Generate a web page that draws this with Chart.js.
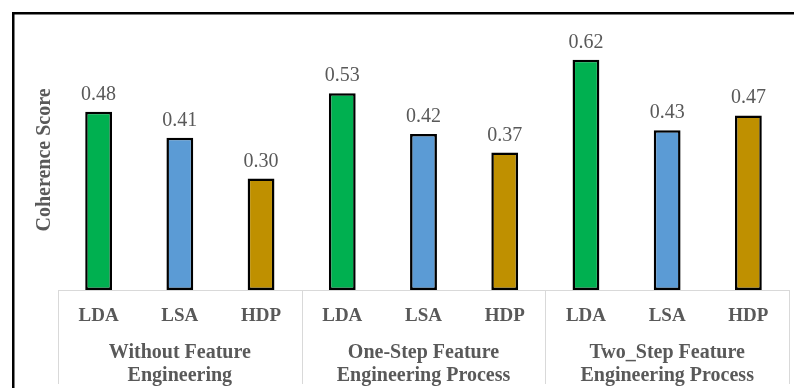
<!DOCTYPE html>
<html>
<head>
<meta charset="utf-8">
<script src="https://cdn.jsdelivr.net/npm/chart.js@4/dist/chart.umd.min.js"></script>
<style>
  html, body { margin: 0; padding: 0; background: #ffffff; }
  #wrap { width: 794px; height: 388px; }
</style>
</head>
<body>
<div id="wrap"><canvas id="chart" width="794" height="388"></canvas></div>
<script>
// Topic models compared in each setting
const methods = ['LDA', 'LSA', 'HDP'];
// Feature engineering settings (two-line labels)
const groups = [
  ['Without Feature', 'Engineering'],
  ['One-Step Feature', 'Engineering Process'],
  ['Two_Step Feature', 'Engineering Process']
];
// Coherence scores per setting, in method order
const withoutFE = [0.48, 0.41, 0.30];
const oneStepFE = [0.53, 0.42, 0.37];
const twoStepFE = [0.62, 0.43, 0.47];

const methodColors = ['#00B050', '#5B9BD5', '#BF9000'];
const textGray = '#595959';
const lineGray = '#d9d9d9';
const serif = '"Liberation Serif", "Times New Roman", serif';

const labels = groups.flatMap(() => methods);
const scores = [...withoutFE, ...oneStepFE, ...twoStepFE];
const barColors = groups.flatMap(() => methodColors);

// White background and the dark frame along the top and left
const framePlugin = {
  id: 'frame',
  beforeDraw(chart) {
    const ctx = chart.ctx;
    ctx.save();
    ctx.fillStyle = '#ffffff';
    ctx.fillRect(0, 0, chart.width, chart.height);
    ctx.fillStyle = '#000000';
    ctx.fillRect(12, 12, chart.width - 12, 2.5);
    ctx.fillRect(12, 12, 2.5, chart.height - 12);
    ctx.restore();
  }
};

// Vertical dividers between the setting groups below the axis
const dividerPlugin = {
  id: 'dividers',
  afterDraw(chart) {
    const x = chart.scales.x;
    const ctx = chart.ctx;
    ctx.save();
    ctx.strokeStyle = lineGray;
    ctx.lineWidth = 1;
    for (let i = 0; i <= groups.length; i++) {
      const px = Math.round(x.getPixelForValue(i * methods.length - 0.5)) + 0.5;
      ctx.beginPath();
      ctx.moveTo(px, x.top);
      ctx.lineTo(px, 384);
      ctx.stroke();
    }
    ctx.restore();
  }
};

// Value labels above each bar
const valueLabelPlugin = {
  id: 'valueLabels',
  afterDatasetsDraw(chart) {
    const ctx = chart.ctx;
    const meta = chart.getDatasetMeta(0);
    const values = chart.data.datasets[0].data;
    ctx.save();
    ctx.font = '20px ' + serif;
    ctx.fillStyle = textGray;
    ctx.textAlign = 'center';
    ctx.textBaseline = 'alphabetic';
    meta.data.forEach((bar, i) => {
      ctx.fillText(values[i].toFixed(2), bar.x, bar.y - 12);
    });
    ctx.restore();
  }
};

new Chart(document.getElementById('chart'), {
  type: 'bar',
  data: {
    labels: labels,
    datasets: [{
      data: scores,
      backgroundColor: barColors,
      borderColor: '#000000',
      borderWidth: 2.5,
      borderSkipped: false,
      categoryPercentage: 1,
      barPercentage: 0.33
    }]
  },
  options: {
    responsive: false,
    devicePixelRatio: 1,
    animation: false,
    layout: { padding: { left: 12, top: 30, right: 5, bottom: 0 } },
    plugins: {
      legend: { display: false },
      tooltip: { enabled: false }
    },
    scales: {
      x: {
        type: 'category',
        position: 'bottom',
        grid: { display: false, drawTicks: false },
        border: { display: true, color: lineGray, width: 1 },
        ticks: {
          color: textGray,
          font: { family: serif, size: 19, weight: 'bold' },
          padding: 15,
          maxRotation: 0,
          autoSkip: false
        },
        afterFit(scale) { scale.height = 40; }
      },
      x2: {
        type: 'category',
        labels: groups,
        position: 'bottom',
        grid: { display: false, drawTicks: false },
        border: { display: false },
        ticks: {
          color: textGray,
          font: { family: serif, size: 20, weight: 'bold', lineHeight: 1.15 },
          padding: 11,
          maxRotation: 0,
          autoSkip: false
        },
        afterFit(scale) { scale.height = 58; }
      },
      y: {
        min: 0,
        max: 0.7,
        grid: { display: false },
        border: { display: false },
        ticks: { display: false },
        title: {
          display: true,
          text: 'Coherence Score',
          color: textGray,
          font: { family: serif, size: 20, weight: 'bold' },
          padding: { top: 21, bottom: 0 }
        },
        afterFit(scale) { scale.width = 46; }
      }
    }
  },
  plugins: [framePlugin, dividerPlugin, valueLabelPlugin]
});
</script>
</body>
</html>
